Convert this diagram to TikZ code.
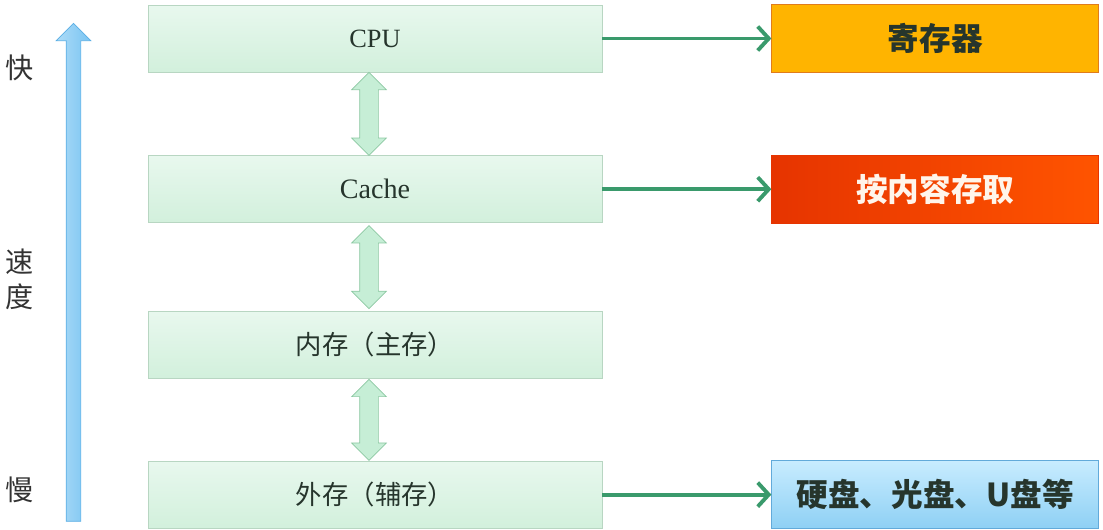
\documentclass[tikz,border=0pt]{standalone}
\usepackage{fontspec}
\setmainfont{Liberation Serif}
\newfontfamily\cjk{Noto Sans CJK SC}
\usetikzlibrary{shapes.arrows, arrows.meta, positioning}
\definecolor{leveltop}{HTML}{E8F8EE}
\definecolor{levelbot}{HTML}{D2F0DC}
\definecolor{levelborder}{HTML}{B8D6C2}
\definecolor{leveltext}{HTML}{26352C}
\definecolor{linkgreen}{HTML}{3A9A6C}
\definecolor{swapfill}{HTML}{C6EED6}
\definecolor{swapborder}{HTML}{8CC8A2}
\definecolor{speedfill}{HTML}{78C4F2}
\definecolor{speedborder}{HTML}{5AAEE4}
\definecolor{regfill}{HTML}{FFB400}
\definecolor{regborder}{HTML}{E07C1C}
\definecolor{camleft}{HTML}{E63400}
\definecolor{camright}{HTML}{FF5400}
\definecolor{diskleft}{HTML}{C8ECFF}
\definecolor{diskbot}{HTML}{8ED0F4}
\definecolor{diskborder}{HTML}{62AADA}
\definecolor{sidetext}{HTML}{333333}

\begin{document}
\begin{tikzpicture}[
        level/.style={draw=levelborder, top color=leveltop, bottom color=levelbot, rectangle, minimum height=1.34cm, minimum width=9.08cm, text=leveltext, font=\fontsize{15}{18}\selectfont\cjk},
        target/.style={draw, rectangle, minimum height=1.36cm, minimum width=6.54cm, font=\fontsize{18}{21}\selectfont\cjk\bfseries},
        link/.style={draw=linkgreen, line width=2.2pt, -{Straight Barb[length=2.2mm,width=4.8mm]}},
        swap/.style={double arrow, draw=swapborder, fill=swapfill, minimum width=0.68cm, double arrow head extend=0.16cm, rotate=90, inner xsep=0pt, inner ysep=0.18cm, anchor=center},
        side/.style={font=\fontsize{16}{20}\selectfont\cjk, text=sidetext, align=center}
    ]
        \useasboundingbox (0,0) rectangle (22.06,10.58);
        \node (fast) [side] at (0.4,9.22) {快};
        \node (mid) [side] at (0.4,5.0) {速\\度};
        \node (slow) [side] at (0.4,0.78) {慢};
        \node (speed) [single arrow, draw=speedborder, left color=speedfill!60, right color=speedfill, minimum width=0.68cm, minimum height=9.96cm, single arrow head extend=0.2cm, rotate=90, inner xsep=0pt, inner ysep=0.14cm] at (1.47,5.06) {};
        \node (cpu) [level, font=\fontsize{15}{18}\selectfont] at (7.5,9.81) {CPU};
        \node (cache) [level, font=\fontsize{16}{18}\selectfont, below=1.66cm of cpu] {Cache};
        \node (main) [level, below=1.76cm of cache] {内存（主存）};
        \node (ext) [level, below=1.64cm of main] {外存（辅存）};
        \node (reg) [target, draw=regborder, fill=regfill, text=leveltext, right=3.38cm of cpu] {寄存器};
        \node (cam) [target, draw=camleft, left color=camleft, right color=camright, text=white!92!orange, right=3.38cm of cache] {按内容存取};
        \node (disk) [target, draw=diskborder, top color=diskleft, bottom color=diskbot, text=leveltext, right=3.38cm of ext] {硬盘、光盘、U盘等};
        \path ([xshift=-0.12cm]cpu.south) -- ([xshift=-0.12cm]cache.north) node (cpucache) [swap, midway, minimum height=1.66cm] {};
        \path ([xshift=-0.12cm]cache.south) -- ([xshift=-0.12cm]main.north) node (cachemain) [swap, midway, minimum height=1.66cm] {};
        \path ([xshift=-0.12cm]main.south) -- ([xshift=-0.12cm]ext.north) node (mainext) [swap, midway, minimum height=1.62cm] {};
        \draw [link] (cpu) -- (reg);
        \draw [link] (cache) -- (cam);
        \draw [link] (ext) -- (disk);
    \end{tikzpicture}
\end{document}
